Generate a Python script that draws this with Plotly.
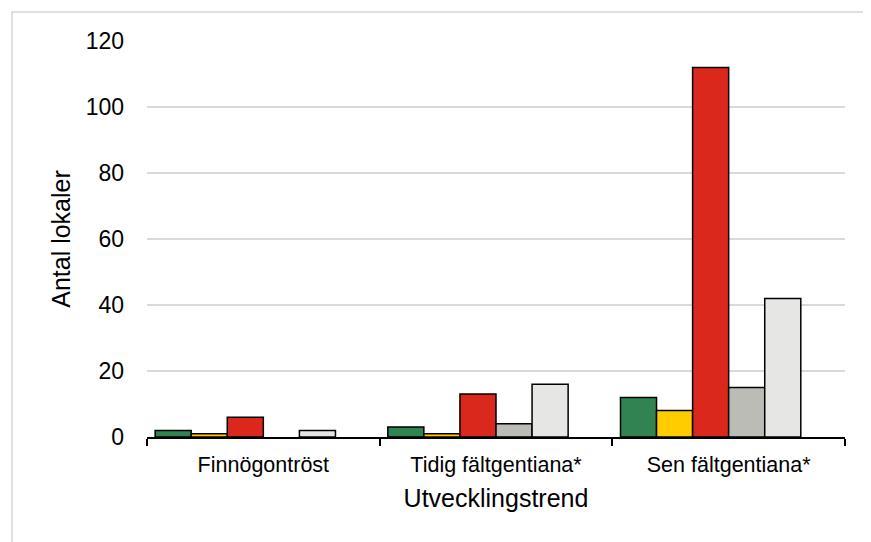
import plotly.graph_objects as go

categories = ["Finnögontröst", "Tidig fältgentiana*", "Sen fältgentiana*"]
series_names = ["Grön", "Gul", "Röd", "Grå", "Ljusgrå", ""]
green_vals = [2, 3, 12]
yellow_vals = [1, 1, 8]
red_vals = [6, 13, 112]
gray_vals = [None, 4, 15]
light_vals = [2, 16, 42]
empty_vals = [None, None, None]
colors = ["#318451", "#FFCC00", "#DA291C", "#BBBCB6", "#E6E6E5", "#FFFFFF"]

all_vals = [green_vals, yellow_vals, red_vals, gray_vals, light_vals, empty_vals]

fig = go.Figure()
for name, vals, col in zip(series_names, all_vals, colors):
    fig.add_trace(go.Bar(
        x=categories, y=vals, name=name,
        marker=dict(color=col, line=dict(color="#000000", width=1.5)),
        showlegend=False,
    ))

font_family = "Liberation Sans, Arial, sans-serif"
fig.update_layout(
    width=863, height=534,
    margin=dict(l=139, r=26, t=33, b=105),
    barmode="group", bargap=0.07, bargroupgap=0,
    plot_bgcolor="white", paper_bgcolor="white",
    font=dict(family=font_family, size=22, color="#000000"),
    xaxis=dict(
        showline=True, linecolor="#000000", linewidth=2,
        ticks="outside", ticklen=7, tickwidth=2, tickcolor="#000000",
        tickson="boundaries", showgrid=False,
        tickfont=dict(size=21.5), ticklabelstandoff=7,
        title=dict(text="Utvecklingstrend", font=dict(size=25), standoff=14),
    ),
    yaxis=dict(
        range=[0, 120], dtick=20, showline=False, zeroline=False,
        showgrid=True, gridcolor="#D9D9D9", gridwidth=2,
        ticks="", tickfont=dict(size=23), ticklabelstandoff=22,
        title=dict(text="Antal lokaler", font=dict(size=25), standoff=7),
    ),
    shapes=[dict(
        type="rect", xref="paper", yref="paper",
        x0=(4 - 139) / 698, x1=1.2, y0=-0.5, y1=(429 - 4) / 396,
        line=dict(color="#D9D6CF", width=1.5), fillcolor="rgba(0,0,0,0)",
        layer="below",
    )],
)

fig.write_html("out.html")
